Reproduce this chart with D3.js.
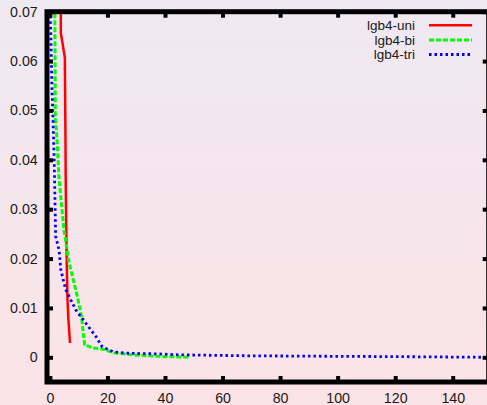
<!DOCTYPE html>
<html>
<head>
<meta charset="utf-8">
<script src="https://cdn.jsdelivr.net/npm/d3@7"></script>
<style>
    body { margin: 0; }
    svg { display: block; font-family: "Liberation Sans", Arial, sans-serif; }
</style>
</head>
<body>
<script>
// series: [iteration, value]
const uniX = [3.8, 3.8, 5.2, 5.4, 5.5, 5.7, 5.9, 6.1, 6.4, 7.0]
const uniY = [0.0725, 0.0657, 0.0607, 0.046, 0.036, 0.026, 0.018, 0.012, 0.008, 0.0029]

const biX = [1.7, 1.8, 1.9, 2.3, 3.2, 4.9, 6.7, 9.6, 11.0, 11.6, 12.1, 15.1, 18.8, 22.1, 29, 37.2, 48.8]
const biY = [0.0725, 0.060, 0.048, 0.046, 0.036, 0.0258, 0.0191, 0.0122, 0.0082, 0.0049, 0.0025, 0.0019, 0.0016, 0.0009, 0.0005, 0.0002, 0.0]

const triX = [0.0, 0.3, 0.7, 1.2, 1.5, 2.0, 3.2, 3.8, 5.5, 9.0, 12.5, 16.0, 18.2, 22.1, 27.9, 37.7, 45, 70, 100, 130, 152.5]
const triY = [0.0725, 0.0657, 0.055, 0.046, 0.040, 0.0245, 0.0217, 0.0177, 0.0137, 0.0096, 0.0069, 0.0042, 0.0021, 0.0011, 0.0008, 0.0007, 0.0005, 0.0003, 0.0002, 0.0001, 0.0]

const seriesNames = ['lgb4-uni', 'lgb4-bi', 'lgb4-tri']
const seriesColors = ['#ff0000', '#00ff00', '#0000ff']
const seriesDash = [null, '5,2', '2.5,3']
const seriesWidth = [2.5, 3, 2.8]

const xTicks = [0, 20, 40, 60, 80, 100, 120, 140]
const yTicks = [0, 0.01, 0.02, 0.03, 0.04, 0.05, 0.06, 0.07]
const yTickLabels = ['0', '0.01', '0.02', '0.03', '0.04', '0.05', '0.06', '0.07']

const width = 487
const height = 405
const plot = { left: 47, right: 488.7, top: 11.7, bottom: 382 }

const svg = d3.select("body")
    .append("svg")
    .attr("width", width)
    .attr("height", height)

const defs = svg.append("defs")
const grad = defs.append("linearGradient")
    .attr("id", "bg")
    .attr("x1", 0).attr("y1", 0)
    .attr("x2", 0).attr("y2", 1)
grad.append("stop").attr("offset", "0%").attr("stop-color", "#efe9f2")
grad.append("stop").attr("offset", "100%").attr("stop-color", "#fbe3e6")

defs.append("clipPath")
    .attr("id", "clip")
    .append("rect")
    .attr("x", plot.left)
    .attr("y", plot.top)
    .attr("width", plot.right - plot.left)
    .attr("height", plot.bottom - plot.top)

svg.append("rect")
    .attr("width", width)
    .attr("height", height)
    .attr("fill", "url(#bg)")

const xScale = d3.scaleLinear()
    .domain([-1, 152.5])
    .range([plot.left, plot.right])

const yScale = d3.scaleLinear()
    .domain([-0.005, 0.07])
    .range([plot.bottom, plot.top])

const series = [
    d3.zip(uniX, uniY),
    d3.zip(biX, biY),
    d3.zip(triX, triY)
]

const line = d3.line()
    .x(d => xScale(d[0]))
    .y(d => yScale(d[1]))

svg.append("g")
    .attr("clip-path", "url(#clip)")
    .selectAll("path")
    .data(series)
    .enter()
    .append("path")
    .attr("d", line)
    .attr("fill", "none")
    .attr("stroke", (d, i) => seriesColors[i])
    .attr("stroke-width", (d, i) => seriesWidth[i])
    .attr("stroke-dasharray", (d, i) => seriesDash[i])

// axes, ticks pointing inwards on all four sides
const tickLen = 6

const xAxis = d3.axisBottom(xScale)
    .tickValues(xTicks)
    .tickSizeInner(-tickLen)
    .tickSizeOuter(0)
    .tickPadding(10.5)
    .tickFormat(d3.format("d"))

const yAxis = d3.axisLeft(yScale)
    .tickValues(yTicks)
    .tickSizeInner(-tickLen)
    .tickSizeOuter(0)
    .tickPadding(9.3)
    .tickFormat((d, i) => yTickLabels[i])

const xTop = d3.axisTop(xScale).tickValues(xTicks).tickSizeInner(-tickLen).tickSizeOuter(0).tickFormat("")
const yRight = d3.axisRight(yScale).tickValues(yTicks).tickSizeInner(-tickLen).tickSizeOuter(0).tickFormat("")

const axes = [
    [xAxis, `translate(0, ${plot.bottom})`],
    [yAxis, `translate(${plot.left}, 0)`],
    [xTop, `translate(0, ${plot.top})`],
    [yRight, `translate(${plot.right}, 0)`]
]

axes.forEach(a => {
    const g = svg.append("g")
        .attr("transform", a[1])
        .call(a[0])
    g.select(".domain").remove()
    g.selectAll("line").attr("stroke", "#000").attr("stroke-width", 4)
    g.selectAll("text")
        .attr("fill", "#1a1a1a")
        .style("font-size", "14.2px")
        .style("font-family", '"Liberation Sans", Arial, sans-serif')
})

svg.append("rect")
    .attr("x", plot.left)
    .attr("y", plot.top)
    .attr("width", plot.right - plot.left)
    .attr("height", plot.bottom - plot.top)
    .attr("fill", "none")
    .attr("stroke", "#000")
    .attr("stroke-width", 5)

// legend
const legend = svg.append("g")
    .selectAll("g")
    .data(seriesNames)
    .enter()
    .append("g")
    .attr("transform", (d, i) => `translate(0, ${25.3 + i * 14.6})`)

legend.append("text")
    .attr("x", 415)
    .attr("y", 0)
    .attr("dy", "0.35em")
    .attr("text-anchor", "end")
    .attr("fill", "#1a1a1a")
    .style("font-size", "13.5px")
    .text(d => d)

legend.append("line")
    .attr("x1", 429)
    .attr("x2", 472)
    .attr("y1", 0)
    .attr("y2", 0)
    .attr("stroke", (d, i) => seriesColors[i])
    .attr("stroke-width", (d, i) => seriesWidth[i])
    .attr("stroke-dasharray", (d, i) => seriesDash[i])
</script>
</body>
</html>
